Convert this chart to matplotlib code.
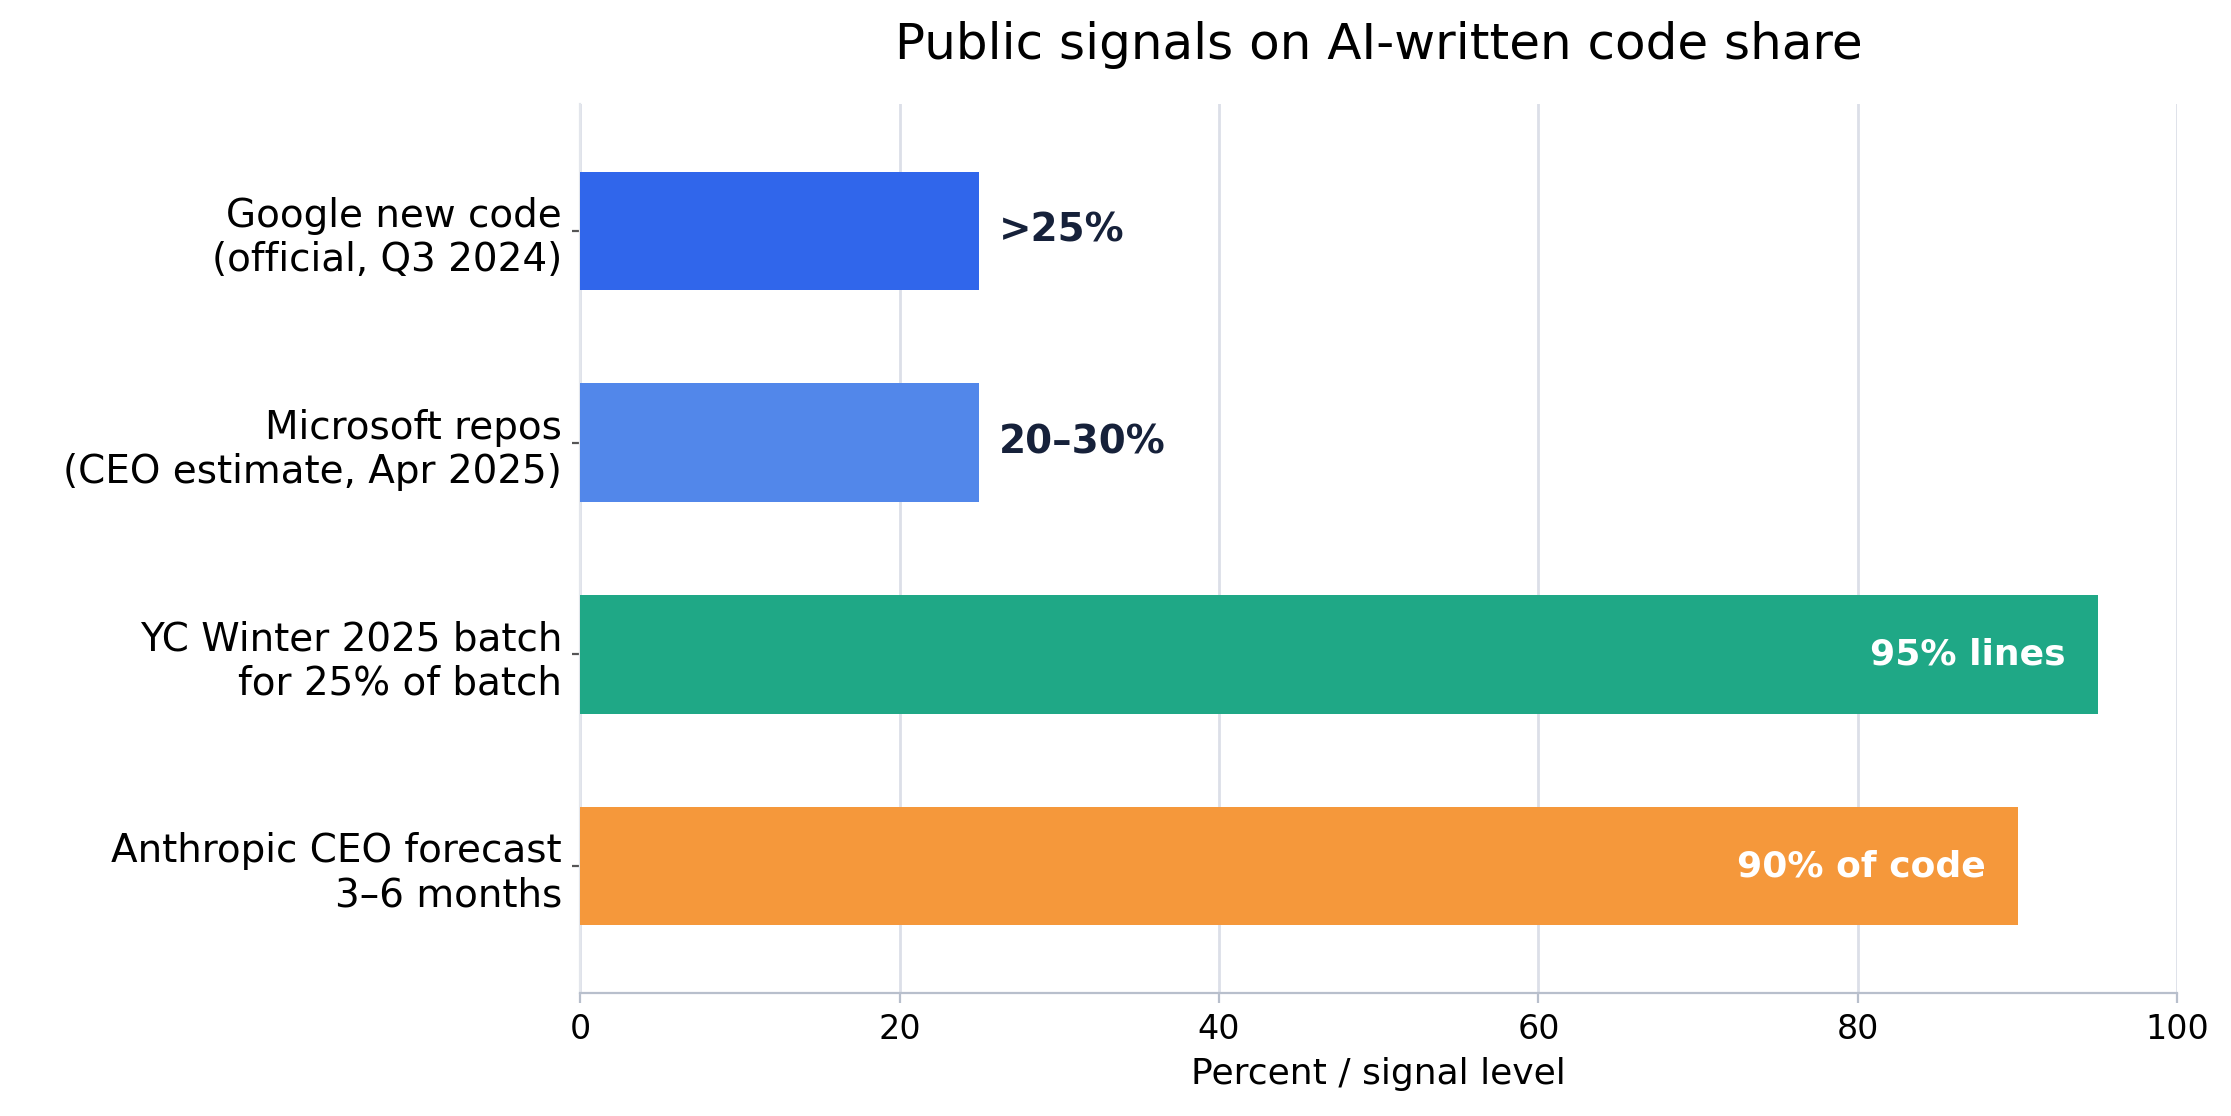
import matplotlib.pyplot as plt

# data
labels = ["Google new code\n(official, Q3 2024)",
          "Microsoft repos\n(CEO estimate, Apr 2025)",
          "YC Winter 2025 batch\nfor 25% of batch",
          "Anthropic CEO forecast\n3\u20136 months"]
values = [25, 25, 95, 90]
bar_text = [">25%", "20\u201330%", "95% lines", "90% of code"]
colors = ["#3066EB", "#5287EA", "#1FA886", "#F5983B"]
inside = [False, False, True, True]

fig = plt.figure(figsize=(2231 / 200, 1116 / 200), dpi=200)
ax = fig.add_axes([0.26, 0.11, 0.716, 0.797])

y = list(range(len(labels)))
ax.barh(y, values, height=0.56, color=colors, zorder=3)
ax.invert_yaxis()
ax.set_yticks(y)
ax.set_yticklabels(labels, fontsize=14)
ax.set_xlim(0, 100)
ax.set_ylim(3.6, -0.6)
ax.tick_params(axis="x", labelsize=12, color="#b8bfcc")
ax.tick_params(axis="y", length=3, color="#555555")

for yi, v, t, ins in zip(y, values, bar_text, inside):
    if ins:
        ax.text(v - 2, yi, t, ha="right", va="center", fontsize=13,
                fontweight="bold", color="white", zorder=4)
    else:
        ax.text(v + 1.2, yi, t, ha="left", va="center", fontsize=14,
                fontweight="bold", color="#16213a", zorder=4)

ax.grid(axis="x", color="#dcdfe8", linewidth=1, zorder=0)
for s in ["top", "right"]:
    ax.spines[s].set_visible(False)
ax.spines["left"].set_color("#e3e6ec")
ax.spines["bottom"].set_color("#b8bfcc")

ax.set_xlabel("Percent / signal level", fontsize=13)
fig.text(0.618, 0.96, "Public signals on AI-written code share",
         ha="center", va="center", fontsize=18)

fig.savefig("out.png", dpi=200)
